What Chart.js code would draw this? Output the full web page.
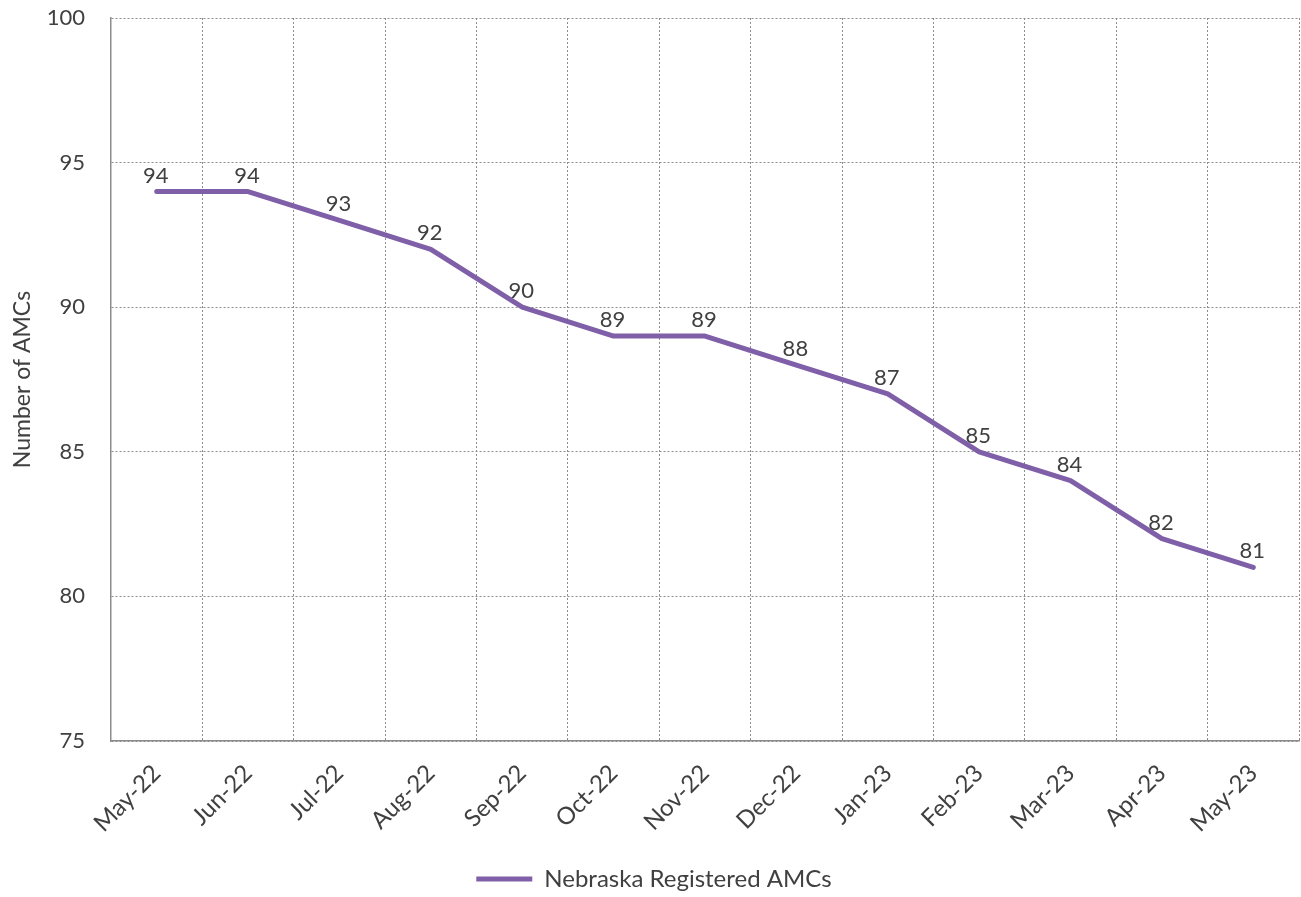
<!DOCTYPE html>
<html>
<head>
<meta charset="utf-8">
<script src="https://cdn.jsdelivr.net/npm/chart.js@4/dist/chart.umd.min.js"></script>
<style>
  html, body { margin: 0; padding: 0; background: #ffffff; }
  #wrap { width: 1301px; height: 897px; position: relative; }
</style>
</head>
<body>
<div id="wrap"><canvas id="c"></canvas></div>
<script>
// Monthly count of registered appraisal management companies
const months = ['May-22', 'Jun-22', 'Jul-22', 'Aug-22', 'Sep-22', 'Oct-22', 'Nov-22',
                'Dec-22', 'Jan-23', 'Feb-23', 'Mar-23', 'Apr-23', 'May-23'];
const registeredAMCs = [94, 94, 93, 92, 90, 89, 89, 88, 87, 85, 84, 82, 81];
const yTicks = [75, 80, 85, 90, 95, 100];

const FONT = 'Lato, "Open Sans", sans-serif';
const TEXT = '#404040';
const PURPLE = '#7f60a8';
const GRID = '#8c8c8c';

// Writes each point's value just above it
const valueLabels = {
  id: 'valueLabels',
  afterDatasetsDraw(chart) {
    const ctx = chart.ctx;
    const meta = chart.getDatasetMeta(0);
    const data = chart.data.datasets[0].data;
    ctx.save();
    ctx.font = '22px ' + FONT;
    ctx.fillStyle = TEXT;
    ctx.textAlign = 'center';
    ctx.textBaseline = 'alphabetic';
    meta.data.forEach((pt, i) => {
      ctx.fillText(String(data[i]), pt.x - 1, pt.y - 9);
    });
    ctx.restore();
  }
};

new Chart(document.getElementById('c'), {
  type: 'line',
  data: {
    labels: months,
    datasets: [{
      label: 'Nebraska Registered AMCs',
      data: registeredAMCs,
      borderColor: PURPLE,
      backgroundColor: PURPLE,
      borderWidth: 5,
      borderCapStyle: 'round',
      borderJoinStyle: 'round',
      pointRadius: 0,
      pointHoverRadius: 0,
      tension: 0
    }]
  },
  options: {
    responsive: true,
    maintainAspectRatio: false,
    animation: false,
    layout: { padding: { top: 0, right: 2, bottom: -4, left: 9 } },
    plugins: {
      tooltip: { enabled: false },
      legend: {
        position: 'bottom',
        labels: {
          usePointStyle: true,
          pointStyle: 'line',
          pointStyleWidth: 56,
          boxHeight: 5,
          padding: 3,
          color: TEXT,
          font: { family: FONT, size: 24 }
        }
      }
    },
    scales: {
      x: {
        offset: true,
        afterFit(scale) { scale.height = 123; },
        grid: {
          offset: true,
          color: GRID,
          lineWidth: 1,
          drawTicks: false
        },
        border: { display: true, color: GRID, width: 1.5, dash: [2, 2] },
        ticks: {
          color: TEXT,
          font: { family: FONT, size: 24 },
          maxRotation: 45,
          minRotation: 45,
          padding: 18,
          autoSkip: false
        }
      },
      y: {
        min: yTicks[0],
        max: yTicks[yTicks.length - 1],
        afterBuildTicks(axis) { axis.ticks = yTicks.map(v => ({ value: v })); },
        afterFit(scale) { scale.width = 102; scale.paddingTop = 18; },
        grid: {
          color: GRID,
          lineWidth: 1,
          drawTicks: false
        },
        border: { display: true, color: GRID, width: 1.5, dash: [2, 2] },
        ticks: {
          color: TEXT,
          font: { family: FONT, size: 22 },
          padding: 26
        },
        title: {
          display: true,
          text: 'Number of AMCs',
          color: TEXT,
          font: { family: FONT, size: 23 },
          padding: { top: 0, bottom: 0 }
        }
      }
    }
  },
  plugins: [valueLabels]
});
</script>
</body>
</html>
